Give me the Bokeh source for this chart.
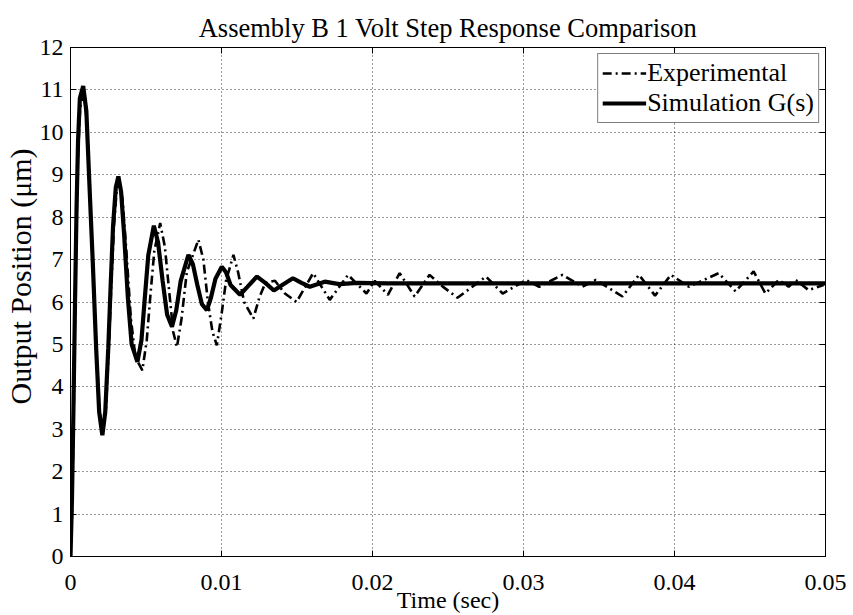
from bokeh.plotting import figure
from bokeh.models import (LinearAxis, FixedTicker, Range1d, Legend, LegendItem,
                          Title, CustomLabelingPolicy)
from bokeh.embed import file_html
from bokeh.resources import INLINE

# ---------------- data ----------------
sim_t = [0, 0.00010, 0.00020, 0.00030, 0.00040, 0.00050, 0.00062, 0.00084,
         0.00105, 0.00125, 0.00148, 0.00170, 0.00190, 0.00211, 0.00230, 0.00250,
         0.00265, 0.00282, 0.00300, 0.00317, 0.00335, 0.00355, 0.00380, 0.00405,
         0.00443, 0.00470, 0.00490, 0.00515, 0.00552, 0.00580, 0.00610, 0.00640,
         0.00672, 0.00700, 0.00730, 0.00781, 0.00810, 0.00840, 0.00870, 0.00903,
         0.00930, 0.00960, 0.01002, 0.01030, 0.01060, 0.01123, 0.01170, 0.01235,
         0.01290, 0.01347, 0.01410, 0.01473, 0.01530, 0.01585, 0.01684, 0.01780,
         0.0190, 0.0210, 0.0250, 0.0300, 0.0350, 0.0400, 0.0450, 0.0500]
sim_v = [0, 1.4, 3.6, 6.0, 8.2, 9.8, 10.8, 11.09,
         10.5, 8.8, 6.9, 4.9, 3.4, 2.86, 3.4, 4.9,
         6.3, 7.8, 8.7, 8.96, 8.6, 7.6, 6.1, 5.0,
         4.59, 5.1, 6.0, 7.1, 7.8, 7.4, 6.5, 5.7,
         5.42, 5.8, 6.5, 7.11, 6.9, 6.4, 5.95, 5.81,
         6.1, 6.55, 6.83, 6.7, 6.4, 6.17, 6.35, 6.60,
         6.45, 6.27, 6.42, 6.56, 6.45, 6.36, 6.48, 6.42,
         6.45, 6.44, 6.44, 6.44, 6.44, 6.44, 6.44, 6.44]

exp_t = [0, 0.00010, 0.00020, 0.00030, 0.00040, 0.00050, 0.00064, 0.00088,
         0.00108, 0.00128, 0.00150, 0.00172, 0.00193, 0.00216, 0.00235, 0.00255,
         0.00270, 0.00288, 0.00305, 0.00325, 0.00345, 0.00370, 0.00400, 0.00430,
         0.00476, 0.00505, 0.00530, 0.00555, 0.00594, 0.00625, 0.00655, 0.00680,
         0.00705, 0.00735, 0.00770, 0.00847, 0.00880, 0.00910, 0.00940, 0.00969,
         0.01000, 0.01030, 0.01079, 0.01110, 0.01150, 0.01211, 0.01250, 0.01290,
         0.01354, 0.01420, 0.01497, 0.01607, 0.01717, 0.01838, 0.01960, 0.02015,
         0.02102, 0.02180, 0.02279, 0.02378, 0.02470, 0.02563, 0.02752, 0.02862,
         0.03016, 0.03104, 0.03258, 0.03390, 0.03479, 0.03655, 0.03765, 0.03871,
         0.03976, 0.04095, 0.04293, 0.04404, 0.04524, 0.04602, 0.04690, 0.04756,
         0.04802, 0.04888, 0.04987]
exp_v = [0, 1.0, 3.2, 5.8, 7.9, 9.5, 10.6, 10.9,
         10.3, 8.6, 6.7, 4.8, 3.4, 2.95, 3.5, 5.0,
         6.4, 7.8, 8.6, 8.85, 8.4, 7.2, 5.6, 4.7,
         4.39, 5.1, 6.2, 7.2, 7.86, 7.3, 6.2, 5.3,
         4.94, 5.6, 6.7, 7.47, 7.0, 6.0, 5.3, 4.98,
         5.7, 6.5, 7.11, 6.7, 6.0, 5.61, 6.1, 6.45,
         6.5, 6.2, 6.0, 6.68, 6.05, 6.64, 6.20, 6.50,
         6.17, 6.68, 6.13, 6.64, 6.35, 6.10, 6.60, 6.20,
         6.52, 6.36, 6.64, 6.36, 6.52, 6.13, 6.64, 6.15,
         6.64, 6.36, 6.68, 6.25, 6.72, 6.20, 6.52, 6.36,
         6.52, 6.28, 6.40]

x_ticks = [0, 0.01, 0.02, 0.03, 0.04, 0.05]
x_tick_labels = ["0", "0.01", "0.02", "0.03", "0.04", "0.05"]
y_ticks = list(range(0, 13))

title_text = "Assembly B 1 Volt Step Response Comparison"
x_label = "Time (sec)"
y_label = "Output Position (\u03bcm)"
series_names = ["Experimental", "Simulation G(s)"]

# ---------------- figure ----------------
FONT = "'Liberation Serif', 'Times New Roman', serif"
p = figure(width=853, height=615, output_backend="svg", toolbar_location=None,
           x_range=Range1d(0, 0.05), y_range=Range1d(0, 12),
           min_border_left=70, min_border_right=28, min_border_top=47,
           min_border_bottom=58, background_fill_color="white",
           border_fill_color="white")

p.title.text = title_text
p.title.align = "center"
p.title.text_font = FONT
p.title.text_font_size = "26.5px"
p.title.text_font_style = "normal"
p.title.text_color = "black"
p.title.offset = 0
p.title.standoff = 2

p.outline_line_color = "black"
p.outline_line_width = 1

no_labels = CustomLabelingPolicy(code="""
for (let i = 0; i < 1000; i++) { indices.unset(i) }
return indices
""")

def style_axis(ax, show_labels=True):
    ax.axis_line_color = "black"
    ax.major_tick_line_color = "black"
    ax.major_tick_in = 6
    ax.major_tick_out = 0
    ax.minor_tick_line_color = None
    ax.major_label_text_font = FONT
    ax.major_label_text_color = "black"
    ax.axis_label_text_font = FONT
    ax.axis_label_text_font_style = "normal"
    ax.axis_label_text_color = "black"
    if not show_labels:
        ax.major_label_policy = no_labels
        ax.major_label_standoff = 0
        ax.major_label_text_font_size = "2px"

xa = p.xaxis[0]
ya = p.yaxis[0]
xa.ticker = FixedTicker(ticks=x_ticks)
xa.major_label_overrides = {t: l for t, l in zip(x_ticks, x_tick_labels)}
ya.ticker = FixedTicker(ticks=y_ticks)
style_axis(xa)
style_axis(ya)
xa.major_label_text_font_size = "24px"
ya.major_label_text_font_size = "24px"
xa.axis_label = x_label
xa.axis_label_text_font_size = "24px"
xa.major_label_standoff = 18
ya.major_label_standoff = 7
xa.axis_label_standoff = -6

top_ax = LinearAxis(ticker=FixedTicker(ticks=x_ticks))
right_ax = LinearAxis(ticker=FixedTicker(ticks=y_ticks))
style_axis(top_ax, False)
style_axis(right_ax, False)
p.add_layout(top_ax, "above")
p.add_layout(right_ax, "right")

ylab = Title(text=y_label, align="left", text_font=FONT,
             text_font_size="30px", text_font_style="normal",
             text_color="black", offset=152, standoff=0)
p.add_layout(ylab, "left")

p.xgrid.ticker = FixedTicker(ticks=x_ticks)
p.ygrid.ticker = FixedTicker(ticks=y_ticks)
for g in (p.xgrid[0], p.ygrid[0]):
    g.grid_line_color = "black"
    g.grid_line_dash = "1 3"
    g.grid_line_width = 1
    g.grid_line_alpha = 0.8

r_exp = p.line(exp_t, exp_v, line_color="black", line_width=2.6,
               line_dash="9 4 2 4")
r_sim = p.line(sim_t, sim_v, line_color="black", line_width=4.2)

legend = Legend(items=[LegendItem(label=series_names[0], renderers=[r_exp]),
                       LegendItem(label=series_names[1], renderers=[r_sim])],
                location="top_right")
legend.label_text_font = FONT
legend.label_text_font_size = "26px"
legend.label_text_color = "black"
legend.glyph_width = 44
legend.glyph_height = 24
legend.label_height = 26
legend.label_standoff = 1
legend.spacing = 0
legend.padding = 4
legend.margin = 6
legend.border_line_color = "black"
legend.border_line_width = 1
legend.background_fill_alpha = 1.0
p.add_layout(legend)

open("out.html", "w").write(file_html(p, INLINE))
